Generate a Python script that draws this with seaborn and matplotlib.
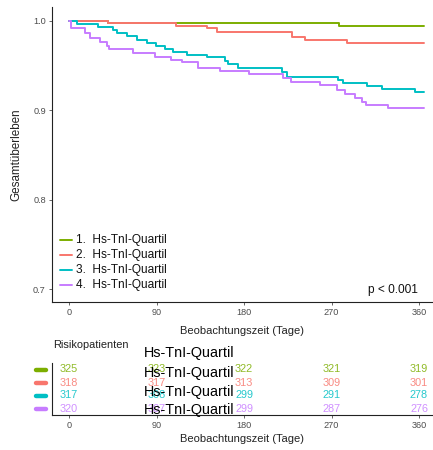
import numpy as np
import pandas as pd
import seaborn as sns
import matplotlib
matplotlib.use("Agg")
import matplotlib.pyplot as plt
from matplotlib.transforms import blended_transform_factory

# Kaplan-Meier step points per troponin quartile (days, survival probability)
q1_days = [0, 40, 278, 365]
q1_surv = [1.0, 0.9969, 0.9935, 0.9935]

q2_days = [0, 40, 110, 142, 152, 229, 243, 286, 365]
q2_surv = [1.0, 0.9971, 0.9941, 0.9911, 0.9876, 0.9820, 0.9785, 0.9745, 0.9745]

q3_days = [0, 8, 30, 45, 49, 60, 70, 80, 89.5, 99, 107, 121, 142, 160, 163.5,
           174, 219, 224, 277, 282, 307, 322, 356, 365]
q3_surv = [1.0, 0.9966, 0.9924, 0.9894, 0.9857, 0.9827, 0.9785, 0.9754, 0.9715,
           0.9678, 0.9651, 0.9615, 0.9589, 0.9551, 0.9514, 0.9473, 0.9425, 0.9372,
           0.9335, 0.9298, 0.9272, 0.9235, 0.9204, 0.9204]

q4_days = [0, 2, 16.5, 21.5, 32, 39, 41, 66, 88.5, 105, 116, 133, 155, 185, 220,
           228, 258, 276, 284, 294, 301, 305.5, 328, 365]
q4_surv = [1.0, 0.9911, 0.9857, 0.9804, 0.9763, 0.9718, 0.9682, 0.9634, 0.9596,
           0.9564, 0.9536, 0.9475, 0.9436, 0.9402, 0.9363, 0.9318, 0.9279, 0.9223,
           0.9179, 0.9131, 0.9086, 0.9056, 0.9019, 0.9019]

group_labels = ["1.  Hs-TnI-Quartil", "2.  Hs-TnI-Quartil",
                "3.  Hs-TnI-Quartil", "4.  Hs-TnI-Quartil"]
palette = ["#7CAE00", "#F8766D", "#00BFC4", "#C77CFF"]

# Number at risk table
table_days = [0, 90, 180, 270, 360]
at_risk_q1 = [325, 323, 322, 321, 319]
at_risk_q2 = [318, 317, 313, 309, 301]
at_risk_q3 = [317, 308, 299, 291, 278]
at_risk_q4 = [320, 307, 299, 287, 276]

x_ticks = [0, 90, 180, 270, 360]
y_ticks = [0.7, 0.8, 0.9, 1.0]
p_text = "p < 0.001"

frames = []
for lab, d, s in zip(group_labels,
                     [q1_days, q2_days, q3_days, q4_days],
                     [q1_surv, q2_surv, q3_surv, q4_surv]):
    frames.append(pd.DataFrame({"Tage": d, "Surv": s, "Gruppe": lab}))
df = pd.concat(frames, ignore_index=True)

sns.set_style("white")
plt.rcParams["font.family"] = ["Liberation Sans", "DejaVu Sans"]

W, H = 433, 450
fig = plt.figure(figsize=(W / 100, H / 100), dpi=100)


def fx(px):
    return px / W


def fy(py):
    return 1 - py / H


xlim = (-17.5, 374.4)
tick_col = "#4D4D4D"

# --- survival curves ---
ax = fig.add_axes([fx(52), fy(302), fx(433) - fx(52), (302 - 7) / H])
sns.lineplot(data=df, x="Tage", y="Surv", hue="Gruppe", hue_order=group_labels,
             palette=palette, drawstyle="steps-post", estimator=None,
             linewidth=1.4, ax=ax, legend=False)
ax.set_xlim(*xlim)
ax.set_ylim(0.6855, 1.0151)
ax.set_xticks(x_ticks)
ax.set_yticks(y_ticks)
ax.set_yticklabels([f"{v:.1f}" for v in y_ticks])
ax.set_xlabel("Beobachtungszeit (Tage)", fontsize=8, color="#222222", labelpad=6)
ax.set_ylabel("Gesamtüberleben", fontsize=8.4, color="#222222", labelpad=7.5)
for side in ["top", "right"]:
    ax.spines[side].set_visible(False)
for side in ["left", "bottom"]:
    ax.spines[side].set_color("#222222")
    ax.spines[side].set_linewidth(0.8)
ax.tick_params(axis="both", length=2.5, width=0.6, color=tick_col,
               labelsize=6.6, labelcolor=tick_col, pad=2, left=True, bottom=True)

# legend keys and labels inside the panel
for i, (lab, col) in enumerate(zip(group_labels, palette)):
    ypx = 240 + i * 15
    fig.add_artist(plt.Line2D([fx(60), fx(72)], [fy(ypx), fy(ypx)],
                              color=col, linewidth=1.4))
    fig.text(fx(76), fy(ypx), lab, fontsize=8.6, va="center", ha="left",
             color="#111111")

fig.text(fx(418), fy(290), p_text, fontsize=8.6, ha="right", va="center",
         color="#111111")

# --- number at risk table ---
tab = fig.add_axes([fx(52), fy(415), fx(433) - fx(52), 52 / H])
tab.set_xlim(*xlim)
tab.set_ylim(4.5, 0.5)
tab.set_xticks(x_ticks)
tab.set_yticks([])
for side in ["top", "right"]:
    tab.spines[side].set_visible(False)
for side in ["left", "bottom"]:
    tab.spines[side].set_color("#222222")
    tab.spines[side].set_linewidth(0.8)
tab.tick_params(axis="x", length=2.5, width=0.6, color=tick_col,
                labelsize=6.6, labelcolor=tick_col, pad=2, bottom=True)
tab.set_xlabel("Beobachtungszeit (Tage)", fontsize=8, color="#222222", labelpad=3)

trans = blended_transform_factory(fig.transFigure, tab.transData)
for row, (counts, col) in enumerate(zip([at_risk_q1, at_risk_q2, at_risk_q3, at_risk_q4],
                                         palette), start=1):
    for t, n in zip(table_days, counts):
        tab.text(t, row, str(n), color=col, alpha=0.85, fontsize=7.8,
                 ha="center", va="center")
    fig.add_artist(plt.Line2D([fx(36), fx(46)], [row, row], transform=trans,
                              color=col, linewidth=3.2, solid_capstyle="round"))

fig.text(fx(53), fy(345), "Risikopatienten", fontsize=7.9, ha="left",
         va="center", color="#222222")

for ypx in [353, 372.5, 392, 410]:
    fig.text(fx(144), fy(ypx), "Hs-TnI-Quartil", fontsize=10.4, ha="left",
             va="center", color="black")

fig.savefig("out.png", dpi=100)
